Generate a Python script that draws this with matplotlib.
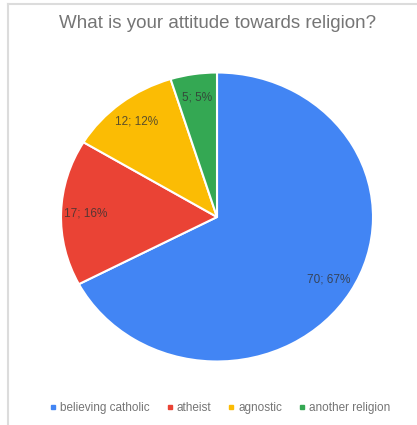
import matplotlib.pyplot as plt
from matplotlib.lines import Line2D

categories = ['believing catholic', 'atheist', 'agnostic', 'another religion']
counts = [70, 17, 12, 5]
colors = ['#4285F4', '#EA4335', '#FBBC04', '#34A853']
title = 'What is your attitude towards religion?'

plt.rcParams['font.family'] = ['Liberation Sans', 'DejaVu Sans']

W, H = 417, 425
fig = plt.figure(figsize=(W / 100, H / 100), dpi=100)

# pie box in pixels: slightly wider than tall
left, top, pw, ph = 61, 72.5, 312, 289
ax = fig.add_axes([left / W, 1 - (top + ph) / H, pw / W, ph / H])

total = sum(counts)


def fmt(pct):
    n = int(round(pct * total / 100))
    return f'{n}; {pct:.0f}%'


wedges, texts, autotexts = ax.pie(
    counts, colors=colors, startangle=90, counterclock=False,
    autopct=fmt, pctdistance=0.84,
    wedgeprops=dict(edgecolor='white', linewidth=1.5),
    textprops=dict(color='#333333', fontsize=8.5, alpha=0.8))
ax.set_aspect('auto')
ax.set_xlim(-1, 1)
ax.set_ylim(-1, 1)
ax.axis('off')

fig.text(218 / W, 1 - 24 / H, title, ha='center', va='center',
         fontsize=13.5, color='#757575')

handles = [Line2D([], [], marker='s', linestyle='none', markersize=3.5,
                  markerfacecolor=c, markeredgecolor=c) for c in colors]
fig.legend(handles, categories, loc='center', bbox_to_anchor=(220 / W, 1 - 408 / H),
           ncol=4, frameon=False, fontsize=8.5, labelcolor='#757575',
           handlelength=0.6, handletextpad=0.3, columnspacing=1.4)

# thin frame lines along top and left edge
fig.add_artist(Line2D([8 / W, 1], [1 - 4 / H, 1 - 4 / H], color='#dcdcdc', linewidth=1.5))
fig.add_artist(Line2D([8 / W, 8 / W], [0, 1 - 4 / H], color='#dcdcdc', linewidth=1.5))

fig.savefig('out.png', dpi=100, facecolor='white')
